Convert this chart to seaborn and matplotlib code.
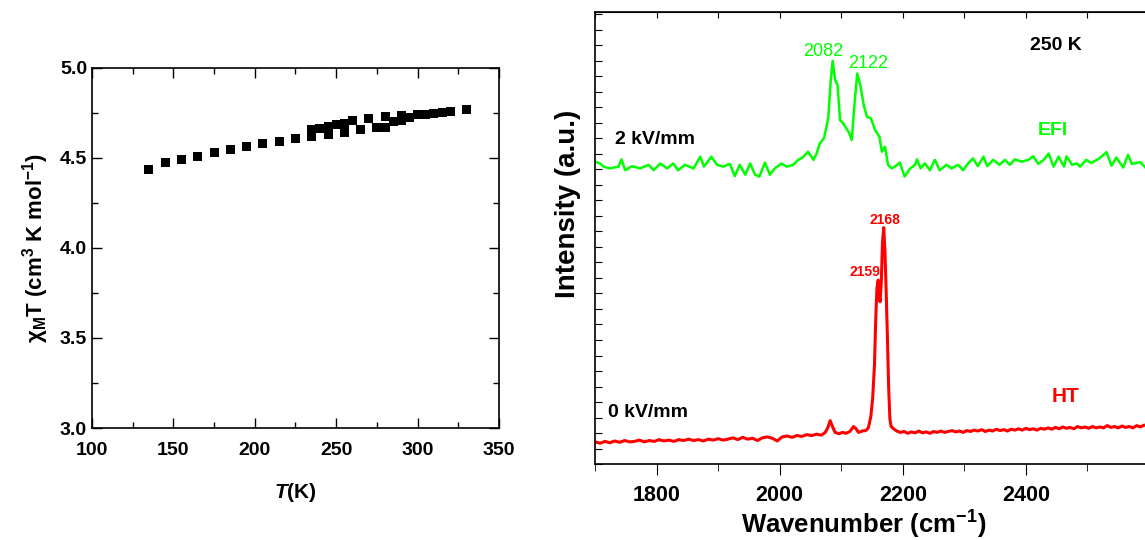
import matplotlib
matplotlib.use("Agg")
import matplotlib.pyplot as plt
import seaborn as sns
from matplotlib.ticker import FixedLocator, MultipleLocator, NullFormatter

# --- data: chi_M T vs T (left panel) ---
temp_k = [135, 145, 155, 165, 175, 185, 195, 205, 215, 225,
          235, 235, 240, 245, 245, 250, 255, 255, 260, 265,
          270, 275, 280, 280, 285, 290, 290, 295, 300, 305,
          310, 315, 320, 330]
chi_t = [4.437, 4.474, 4.489, 4.511, 4.530, 4.548, 4.563, 4.582, 4.593, 4.609,
         4.659, 4.618, 4.665, 4.674, 4.633, 4.685, 4.693, 4.644, 4.706, 4.657,
         4.717, 4.672, 4.728, 4.672, 4.702, 4.737, 4.707, 4.726, 4.739, 4.739,
         4.748, 4.752, 4.757, 4.767]

# --- data: IR spectra (right panel), EFI (2 kV/mm) ---
efi_wn = [1700, 1708, 1714, 1724, 1738, 1743, 1749, 1760, 1773, 1787,
          1795, 1806, 1817, 1827, 1835, 1846, 1860, 1871, 1877, 1889,
          1898, 1908, 1919, 1927, 1935, 1944, 1952, 1960, 1967, 1976,
          1984, 1992, 2003, 2011, 2022, 2030, 2037, 2046, 2055, 2060,
          2065, 2072, 2076, 2079, 2083, 2086, 2090, 2094, 2098, 2103,
          2108, 2113, 2117, 2122, 2126, 2131, 2137, 2142, 2148, 2155,
          2162, 2166, 2171, 2176, 2182, 2187, 2195, 2203, 2212, 2220,
          2223, 2229, 2236, 2244, 2252, 2260, 2271, 2279, 2290, 2298,
          2306, 2314, 2322, 2331, 2337, 2347, 2357, 2366, 2374, 2382,
          2393, 2404, 2412, 2420, 2429, 2437, 2445, 2453, 2462, 2466,
          2475, 2483, 2488, 2498, 2506, 2518, 2531, 2539, 2547, 2558,
          2566, 2572, 2586, 2594, 2600]
efi_int = [66.9, 66.5, 65.8, 65.4, 65.8, 67.4, 65.0, 65.9, 65.4, 66.2,
           65.0, 66.5, 65.4, 66.5, 65.0, 66.2, 65.4, 68.0, 65.8, 68.0,
           66.2, 65.8, 66.4, 63.7, 66.2, 64.0, 66.5, 64.0, 63.6, 66.7,
           64.0, 65.4, 66.5, 65.8, 66.2, 67.3, 67.8, 69.1, 67.3, 68.7,
           70.9, 72.1, 74.6, 76.8, 85.0, 89.2, 85.0, 83.8, 76.1, 75.4,
           74.3, 73.2, 71.7, 80.5, 86.4, 83.8, 79.1, 76.8, 76.5, 73.9,
           72.4, 69.1, 70.2, 66.2, 65.4, 65.8, 66.7, 63.6, 65.4, 66.2,
           67.4, 65.4, 66.5, 65.0, 67.3, 65.0, 66.2, 65.4, 66.2, 65.0,
           66.5, 67.6, 65.9, 68.0, 65.9, 67.3, 66.2, 67.3, 66.2, 67.4,
           66.9, 67.3, 68.1, 66.4, 67.3, 68.7, 65.8, 68.0, 65.8, 68.1,
           66.2, 66.5, 65.8, 67.3, 66.6, 67.5, 69.0, 66.0, 67.8, 65.6,
           68.4, 66.4, 66.8, 65.6, 66.4]

# --- HT (0 kV/mm) ---
ht_wn = [1700, 1708, 1716, 1724, 1732, 1740, 1748, 1756, 1764, 1772,
         1780, 1788, 1796, 1804, 1812, 1820, 1828, 1836, 1844, 1852,
         1860, 1868, 1876, 1884, 1892, 1900, 1908, 1916, 1924, 1932,
         1940, 1948, 1956, 1964, 1972, 1980, 1988, 1996, 2004, 2012,
         2020, 2028, 2036, 2044, 2052, 2060, 2068, 2074, 2078, 2082,
         2086, 2090, 2096, 2102, 2108, 2114, 2120, 2124, 2128, 2134,
         2140, 2144, 2148, 2151, 2154, 2156, 2158, 2160, 2162, 2163,
         2165, 2167, 2169, 2171, 2173, 2175, 2177, 2179, 2181, 2185,
         2190, 2196, 2202, 2208, 2214, 2220, 2226, 2232, 2238, 2244,
         2250, 2256, 2262, 2268, 2274, 2280, 2286, 2292, 2298, 2304,
         2310, 2316, 2322, 2328, 2334, 2340, 2346, 2352, 2358, 2364,
         2370, 2376, 2382, 2388, 2394, 2400, 2406, 2412, 2418, 2424,
         2430, 2436, 2442, 2448, 2454, 2460, 2466, 2472, 2478, 2484,
         2490, 2496, 2502, 2508, 2514, 2520, 2526, 2532, 2538, 2544,
         2550, 2556, 2562, 2568, 2574, 2580, 2586, 2592, 2600]
ht_int = [4.9, 4.6, 5.0, 4.7, 5.1, 4.8, 5.2, 4.9, 5.0, 5.3,
          4.9, 5.2, 5.0, 5.4, 5.1, 5.3, 5.0, 5.4, 5.2, 5.5,
          5.2, 5.4, 5.1, 5.5, 5.3, 5.6, 5.3, 5.5, 5.8, 5.4,
          5.9, 5.5, 5.7, 5.2, 5.8, 6.0, 5.7, 5.1, 6.0, 6.2,
          5.9, 6.3, 6.1, 6.5, 6.3, 6.6, 6.4, 7.0, 8.0, 9.6,
          8.2, 7.0, 6.7, 7.0, 6.8, 7.2, 8.3, 7.8, 7.0, 7.3,
          7.4, 8.0, 10.5, 14.5, 22.0, 32.0, 39.0, 40.7, 37.0, 35.9,
          40.0, 49.0, 52.3, 47.0, 38.0, 28.0, 17.0, 10.0, 8.3, 7.8,
          7.3, 7.0, 7.2, 6.8, 7.1, 6.9, 7.3, 6.9, 7.1, 6.8,
          7.2, 7.0, 7.3, 7.0, 7.2, 7.4, 7.1, 7.3, 7.0, 7.4,
          7.2, 7.5, 7.3, 7.6, 7.2, 7.5, 7.3, 7.7, 7.4, 7.6,
          7.3, 7.7, 7.5, 7.8, 7.5, 7.9, 7.6, 7.8, 7.5, 7.9,
          7.7, 8.0, 7.7, 8.1, 7.8, 8.2, 7.9, 8.1, 7.8, 8.3,
          8.0, 8.2, 7.9, 8.3, 8.0, 8.2, 8.0, 8.5, 8.1, 8.3,
          8.0, 8.4, 8.1, 8.3, 8.0, 8.5, 8.2, 8.6, 8.4]

efi_peaks = ["2082", "2122"]
ht_peaks = ["2159", "2168"]
wn_ticks = [1800, 2000, 2200, 2400]

GREEN = "#00ff00"
RED = "#ff0000"

sns.set_style("ticks")
plt.rcParams["font.family"] = ["Liberation Sans", "DejaVu Sans"]
plt.rcParams["font.weight"] = "bold"
plt.rcParams["axes.labelweight"] = "bold"
plt.rcParams["text.color"] = "black"
plt.rcParams["axes.labelcolor"] = "black"
plt.rcParams["axes.edgecolor"] = "black"
plt.rcParams["xtick.color"] = "black"
plt.rcParams["ytick.color"] = "black"
plt.rcParams["mathtext.fontset"] = "custom"
plt.rcParams["mathtext.rm"] = "Liberation Sans:bold"
plt.rcParams["mathtext.bf"] = "Liberation Sans:bold"
plt.rcParams["mathtext.it"] = "Liberation Sans:italic:bold"
plt.rcParams["mathtext.default"] = "bf"

fig = plt.figure(figsize=(11.45, 5.4), dpi=100)
ax1 = fig.add_axes([0.0803, 0.2074, 0.3555, 0.6667])
ax2 = fig.add_axes([0.5197, 0.1407, 0.4838, 0.8370])

# left panel
sns.scatterplot(x=temp_k, y=chi_t, marker="s", s=42, color="black",
                edgecolor="none", ax=ax1)
ax1.set_xlim(100, 350)
ax1.set_ylim(3.0, 5.0)
ax1.xaxis.set_major_locator(MultipleLocator(50))
ax1.xaxis.set_minor_locator(MultipleLocator(25))
ax1.yaxis.set_major_locator(MultipleLocator(0.5))
ax1.yaxis.set_minor_locator(MultipleLocator(0.25))
ax1.tick_params(which="both", direction="in", top=True, right=True,
                labelsize=14, width=1)
ax1.tick_params(which="major", length=7)
ax1.tick_params(which="minor", length=4)
ax1.tick_params(axis="x", pad=10)
ax1.set_yticklabels([f"{v:.1f}" for v in ax1.get_yticks()])
for lab in ax1.get_xticklabels() + ax1.get_yticklabels():
    lab.set_fontweight("bold")
ax1.set_xlabel(r"$\mathit{T}$(K)", fontsize=15, labelpad=16)
ax1.set_ylabel(r"$\chi_{\rm M}$T (cm$^{3}$ K mol$^{-1}$)", fontsize=16,
               labelpad=6)
for sp in ax1.spines.values():
    sp.set_visible(True)
    sp.set_linewidth(1.2)

# right panel
sns.lineplot(x=efi_wn, y=efi_int, color=GREEN, linewidth=1.8, ax=ax2,
             sort=False, estimator=None)
sns.lineplot(x=ht_wn, y=ht_int, color=RED, linewidth=2.2, ax=ax2,
             sort=False, estimator=None)
ax2.set_xlim(1700, 2600)
ax2.set_ylim(0, 100)
ax2.xaxis.set_major_locator(FixedLocator(wn_ticks))
ax2.xaxis.set_minor_locator(MultipleLocator(100))
ax2.yaxis.set_major_locator(MultipleLocator(3.43))
ax2.yaxis.set_major_formatter(NullFormatter())
ax2.tick_params(axis="x", which="both", direction="out", labelsize=15.5,
                pad=7)
ax2.tick_params(axis="x", which="major", length=8)
ax2.tick_params(axis="x", which="minor", length=5)
ax2.tick_params(axis="y", which="major", direction="in", length=5)
ax2.secondary_xaxis("top").tick_params(which="both", direction="in",
                                        length=4, labeltop=False)
for lab in ax2.get_xticklabels():
    lab.set_fontweight("bold")
for sp in ax2.spines.values():
    sp.set_visible(True)
    sp.set_linewidth(1.2)

ax2.set_xlabel(r"Wavenumber (cm$^{-1}$)", fontsize=18.5)
ax2.xaxis.set_label_coords(0.485, -0.1)
ax2.set_ylabel("Intensity (a.u.)", fontsize=20)
ax2.yaxis.set_label_coords(-0.025, 0.575)

ax2.text(1732, 71.7, "2 kV/mm", fontsize=14, fontweight="bold", va="center")
ax2.text(1721, 11.3, "0 kV/mm", fontsize=14, fontweight="bold", va="center")
ax2.text(2406, 92.7, "250 K", fontsize=14, fontweight="bold", va="center")
ax2.text(2419, 73.9, "EFI", fontsize=14, fontweight="bold", color=GREEN,
         va="center")
ax2.text(2442, 15.0, "HT", fontsize=15, fontweight="bold", color=RED,
         va="center")
ax2.text(2070, 91.2, efi_peaks[0], fontsize=13, fontweight="normal",
         color=GREEN, ha="center", va="center")
ax2.text(2143, 88.7, efi_peaks[1], fontsize=13, fontweight="normal",
         color=GREEN, ha="center", va="center")
ax2.text(2138, 42.5, ht_peaks[0], fontsize=10, fontweight="bold",
         color=RED, ha="center", va="center")
ax2.text(2171, 54.0, ht_peaks[1], fontsize=10, fontweight="bold",
         color=RED, ha="center", va="center")

fig.savefig("out.png", dpi=100)
